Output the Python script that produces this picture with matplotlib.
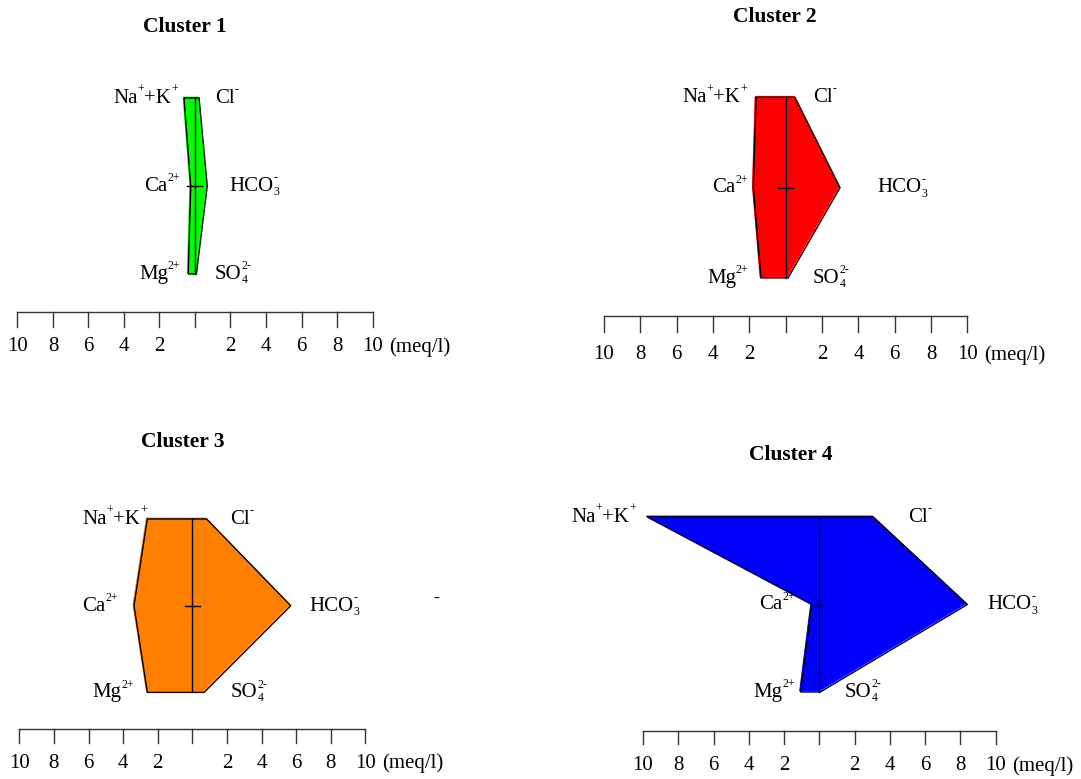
import matplotlib
matplotlib.use('Agg')
import matplotlib.pyplot as plt
import matplotlib.transforms as mtransforms
import numpy as np

plt.rcParams['font.family'] = ['Liberation Serif', 'DejaVu Serif']

# stiff diagram data, meq/l (cations left, anions right)
titles = ['Cluster 1', 'Cluster 2', 'Cluster 3', 'Cluster 4']
colors = ['#00ff00', '#ff0000', '#ff8000', '#0000ff']
# label pieces: (text, kind) kind n=normal, p=superscript, b=subscript, s=superscript stacked over subscript
cation_labels = [[('Na', 'n'), ('+', 'p'), ('+K', 'n'), ('+', 'p')],
                 [('Ca', 'n'), ('2+', 'p')],
                 [('Mg', 'n'), ('2+', 'p')]]
anion_labels = [[('Cl', 'n'), ('-', 'p')],
                [('HCO', 'n'), ('3', 'b'), ('-', 's')],
                [('SO', 'n'), ('4', 'b'), ('2-', 's')]]
nak = [0.62, 1.63, 2.60, 9.76]
ca = [0.24, 1.78, 3.37, 0.43]
mg = [0.38, 1.36, 2.60, 1.06]
cl = [0.23, 0.51, 0.83, 3.06]
hco3 = [0.69, 2.99, 5.69, 8.40]
so4 = [0.08, 0.13, 0.68, 0.05]
scale_ticks = [-10, -8, -6, -4, -2, 0, 2, 4, 6, 8, 10]

# layout in pixels: centre x, px per meq, top row y, row gap, scale y, tick length, tick label y,
# title x/y, left edges of cation / anion labels
layout = [
    dict(cx=195.0, s=17.75, top=98.0, gap=88.0, ay=312.3, tl=14.4, ly=347, tx=185, ty=27,
         left=[113, 144, 139], right=[215, 229, 215]),
    dict(cx=785.7, s=18.17, top=97.3, gap=90.3, ay=315.7, tl=16.0, ly=355, tx=775, ty=17,
         left=[682, 712, 707], right=[813, 877, 813]),
    dict(cx=192.3, s=17.3, top=519.0, gap=86.7, ay=729.3, tl=13.4, ly=763, tx=183, ty=442,
         left=[82, 82, 92], right=[230, 309, 231]),
    dict(cx=819.3, s=17.63, top=517.0, gap=87.5, ay=730.7, tl=13.6, ly=766, tx=791, ty=455,
         left=[571, 759, 753], right=[908, 987, 845]),
]

W, H = 1081, 779
fig = plt.figure(figsize=(W / 100, H / 100), dpi=100)

BASE = -3.5  # baseline offset of ion labels below the row, points
FS = 15
SFS = 8.5


def ion_label(ax, x, y, pieces):
    first = ax.annotate(pieces[0][0], xy=(x, y), xytext=(0, BASE), textcoords='offset points',
                        ha='left', va='baseline', fontsize=FS)
    prev = first
    before_sub = first
    for txt, kind in pieces[1:]:
        if kind == 'n':
            dy, fs, anchor = BASE, FS, prev
        elif kind == 'p':
            dy, fs, anchor = BASE + 7.0, SFS, prev
        elif kind == 'b':
            dy, fs, anchor = BASE - 3.0, SFS, prev
            before_sub = prev
        else:
            dy, fs, anchor = BASE + 7.0, SFS, before_sub
        t = ax.annotate(txt, xy=(1, y), xycoords=(anchor, 'data'), xytext=(0, dy),
                        textcoords='offset points', ha='left', va='baseline', fontsize=fs)
        prev = t


for i in range(4):
    L = layout[i]
    ax = fig.add_axes([0, 0, 1, 1])
    ax.patch.set_alpha(0)
    ax.axis('off')
    ax.set_xlim(-L['cx'] / L['s'], (W - L['cx']) / L['s'])
    ax.set_ylim((H - L['top']) / L['gap'], -L['top'] / L['gap'])

    def py(p):
        return (p - L['top']) / L['gap']

    def px(p):
        return (p - L['cx']) / L['s']

    xs = np.array([-nak[i], -ca[i], -mg[i], so4[i], hco3[i], cl[i]])
    ys = np.array([0, 1, 2, 2, 1, 0])

    shadow = mtransforms.offset_copy(ax.transData, fig=fig, x=1.3, y=-1.3, units='dots')
    shift = mtransforms.offset_copy(ax.transData, fig=fig, x=-1.0, y=1.0, units='dots')
    ax.fill(xs, ys, facecolor='none', edgecolor='white', lw=1.3, transform=shadow)
    ax.fill(xs, ys, facecolor=colors[i], edgecolor=colors[i], lw=0.6, transform=shift)
    ax.fill(xs, ys, facecolor='none', edgecolor='black', lw=1.0)

    # centre line and tick
    ax.plot([0, 0], [0, 2], color='black', lw=1.0)
    ax.plot([px(L['cx'] - 7.5), px(L['cx'] + 7.5)], [1, 1], color='black', lw=1.0)

    # ion labels
    for r in range(3):
        ion_label(ax, px(L['left'][r]), r, cation_labels[r])
        ion_label(ax, px(L['right'][r]), r, anion_labels[r])

    # meq/l scale
    ay = py(L['ay'])
    tl = L['tl'] / L['gap']
    ax.plot([scale_ticks[0], scale_ticks[-1]], [ay, ay], color='#333333', lw=1.0)
    for t in scale_ticks:
        ax.plot([t, t], [ay, ay + tl], color='#333333', lw=1.0)
        if t != 0:
            ax.text(t, py(L['ly']), str(abs(t)), ha='center', va='center', fontsize=15)
    ax.annotate('(meq/l)', xy=(scale_ticks[-1], py(L['ly'])), xytext=(12, 0),
                textcoords='offset points', ha='left', va='center', fontsize=15)

    ax.text(px(L['tx']), py(L['ty']), titles[i], ha='center', va='center',
            fontsize=15.5, fontweight='bold')

fig.text(436 / W, 1 - 598 / H, '-', ha='center', va='center', fontsize=13)

fig.savefig('out.png', dpi=100)
